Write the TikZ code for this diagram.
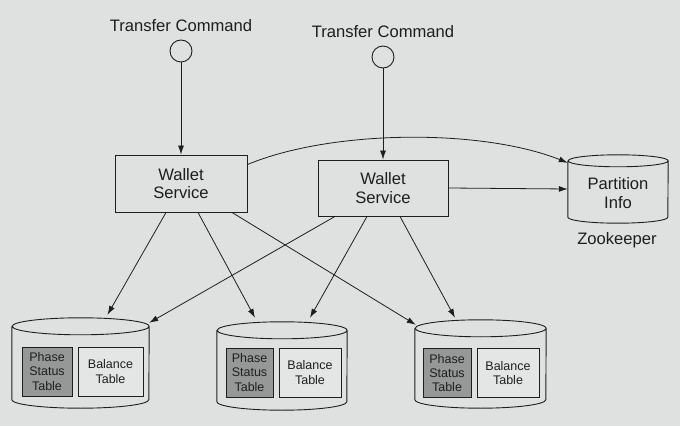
\documentclass[tikz,border=0pt]{standalone}
\usepackage{fontspec}
\setmainfont{Liberation Sans}
\usetikzlibrary{arrows.meta}
\definecolor{bg}{RGB}{222,225,224}
\definecolor{ink}{RGB}{30,30,30}
\definecolor{phase}{RGB}{150,152,151}
\definecolor{bal}{RGB}{228,230,229}
\tikzset{
 big/.style={font=\fontsize{16.6}{18.5}\selectfont, text=ink},
 small/.style={font=\fontsize{12.5}{14.3}\selectfont, text=ink},
 wbox/.style={draw=ink, line width=0.9pt, minimum height=57pt, align=center, big, inner sep=0pt},
 port/.style={circle, draw=ink, line width=0.9pt, minimum size=22pt, inner sep=0pt},
 cylbox/.style={draw=none, inner sep=0pt},
 phasebox/.style={draw=ink, fill=phase, line width=0.8pt, align=center, small, inner sep=0pt, minimum height=49pt},
 balbox/.style={draw=ink, fill=bal, line width=0.8pt, align=center, small, inner sep=0pt, minimum height=49pt},
 arr/.style={draw=ink, line width=0.8pt, -{Latex[length=9pt,width=6pt]}},
 cylline/.style={draw=ink, line width=0.9pt},
}
\newcommand\dbcyl[3]{%
 \draw[cylline] ([yshift=-#3]#1.north west) -- ([yshift=#3]#1.south west)
   arc[start angle=180,end angle=360,x radius=#2,y radius=#3]
   -- ([yshift=-#3]#1.north east)
   arc[start angle=0,end angle=360,x radius=#2,y radius=#3];}
\begin{document}
\begin{tikzpicture}[x=1pt,y=1pt]
\fill[bg] (0,0) rectangle (680,426);
\useasboundingbox (0,0) rectangle (680,426);

% transfer commands
\node[big] (t1) at (181,400) {Transfer Command};
\node[port] (c1) at (181,375) {};
\node[big] (t2) at (383,394) {Transfer Command};
\node[port] (c2) at (383,369) {};

% wallet services
\node[wbox, minimum width=132pt] (w1) at (181,242.5) {Wallet\\Service};
\node[wbox, minimum width=130pt, minimum height=56pt] (w2) at (383,238) {Wallet\\Service};

% partition info
\node[cylbox, minimum width=100pt, minimum height=68pt] (pi) at (618,237) {};
\dbcyl{pi}{50pt}{6pt}
\node[big, align=center] (pitxt) at (618,233) {Partition\\Info};
\node[big] (zk) at (617,186) {Zookeeper};

% databases
\node[cylbox, minimum width=137pt, minimum height=90pt] (db1) at (80.5,63) {};
\dbcyl{db1}{68.5pt}{8.5pt}
\node[cylbox, minimum width=130pt, minimum height=88pt] (db2) at (282,60) {};
\dbcyl{db2}{65pt}{8.5pt}
\node[cylbox, minimum width=131pt, minimum height=88pt] (db3) at (480.5,62) {};
\dbcyl{db3}{65.5pt}{8.5pt}

\node[phasebox, minimum width=50pt] (p1) at (47,54.5) {Phase\\Status\\Table};
\node[balbox, minimum width=65pt] (b1) at (110.5,54.5) {Balance\\Table};
\node[phasebox, minimum width=47pt] (p2) at (249.5,53.5) {Phase\\Status\\Table};
\node[balbox, minimum width=62pt] (b2) at (310,53.5) {Balance\\Table};
\node[phasebox, minimum width=48pt] (p3) at (447,53) {Phase\\Status\\Table};
\node[balbox, minimum width=62pt] (b3) at (508,53) {Balance\\Table};

% connectors
\draw[arr] (c1) -- (w1.north);
\draw[arr] (c2) -- (w2.north);
\draw[arr] ([yshift=-10pt]w1.north east) .. controls (330,296) and (480,298) .. ([yshift=-8pt]pi.north west);
\draw[arr] (w2.east) -- (pi.west);

\draw[arr] ([xshift=-15pt]w1.south) -- ([shift={(27pt,3pt)}]db1.north);
\draw[arr] ([xshift=17pt]w1.south) -- ([shift={(-27pt,4pt)}]db2.north);
\draw[arr] ([xshift=51pt]w1.south) -- ([shift={(1pt,-5pt)}]db3.north west);
\draw[arr] ([xshift=-48pt]w2.south) -- ([shift={(0pt,-5pt)}]db1.north east);
\draw[arr] ([xshift=-16pt]w2.south) -- ([shift={(28pt,4pt)}]db2.north);
\draw[arr] ([xshift=17pt]w2.south) -- ([shift={(-25.5pt,2pt)}]db3.north);
\end{tikzpicture}
\end{document}
